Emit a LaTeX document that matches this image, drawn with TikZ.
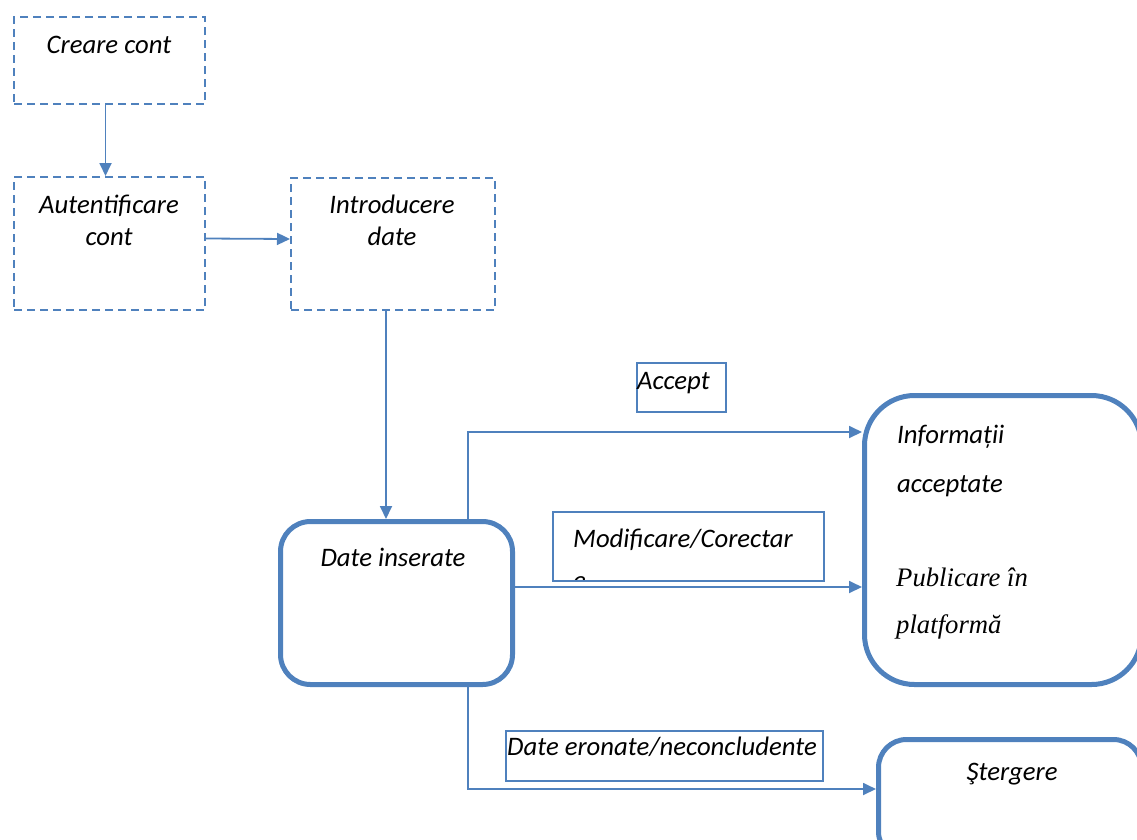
\documentclass[tikz,border=0pt]{standalone}
\usepackage{fontspec}
\setmainfont{Carlito}
\newfontfamily\tnr{Liberation Serif}
\usetikzlibrary{arrows.meta}
\definecolor{ob}{HTML}{4F81BD}
\begin{document}
\begin{tikzpicture}[x=1pt,y=-1pt,
 dbox/.style={draw=ob,line width=2pt,dash pattern=on 8pt off 5pt,inner sep=0pt,anchor=north west},
 rbox/.style={draw=ob,line width=5pt,inner sep=0pt,anchor=north west},
 lbox/.style={draw=ob,line width=1.5pt,inner sep=0pt,anchor=north west},
 conn/.style={draw=ob,line width=1.8pt,-{Triangle[length=13pt,width=12pt]}},
 txt/.style={font=\fontsize{26.7}{32}\selectfont\itshape,inner sep=0pt}]
\useasboundingbox (0,0) rectangle (1137,839);
% boxes
\node[dbox,minimum width=191pt,minimum height=87pt] (creare) at (13,16) {};
\node[dbox,minimum width=191pt,minimum height=133pt] (autent) at (13,176) {};
\node[dbox,minimum width=204pt,minimum height=132pt] (introd) at (290,177) {};
\node[rbox,rounded corners=30pt,minimum width=232pt,minimum height=163pt] (datein) at (278,519) {};
\node[rbox,rounded corners=50pt,minimum width=277pt,minimum height=289pt] (info) at (862,393) {};
\node[rbox,rounded corners=28pt,minimum width=263pt,minimum height=120pt] (sterg) at (876,737) {};
% label boxes
\node[lbox,minimum width=89pt,minimum height=49pt] (accbox) at (636,362) {};
\node[lbox,minimum width=271pt,minimum height=69pt] (modbox) at (552,511) {};
\node[lbox,minimum width=317pt,minimum height=50pt] (errbox) at (505,730) {};
% texts
\node[txt,anchor=base] (tcreare) at (109,53) {Creare cont};
\node[txt,anchor=base] (tautent1) at (109,213) {Autentificare};
\node[txt,anchor=base] (tautent2) at (109,245) {cont};
\node[txt,anchor=base] (tintrod1) at (392,213) {Introducere};
\node[txt,anchor=base] (tintrod2) at (392,245) {date};
\node[txt,anchor=base] (tdatein) at (393,566) {Date inserate};
\node[txt,anchor=base west] (tinfo1) at (897,443) {Informații};
\node[txt,anchor=base west] (tinfo2) at (897,492) {acceptate};
\node[txt,anchor=base west,font=\fontsize{26.7}{32}\selectfont\tnr\itshape] (tpub1) at (896,586) {Publicare în};
\node[txt,anchor=base west,font=\fontsize{26.7}{32}\selectfont\tnr\itshape] (tpub2) at (896,633) {platformă};
\node[txt,anchor=base] (tsterg) at (1012,780) {Ştergere};
\node[txt,anchor=base west] (tacc) at (637,389) {Accept};
\begin{scope}
\clip (553,512) rectangle (822,579);
\node[txt,anchor=base west] (tmod1) at (573,547) {Modificare/Corectar};
\node[txt,anchor=base west] (tmod2) at (573,589) {e};
\end{scope}
\node[txt,anchor=base west] (terr) at (507,755) {Date eronate/neconcludente};
% connectors
\draw[conn] ([xshift=-4pt]creare.south) -- ([xshift=-4pt]autent.north);
\draw[conn] ([yshift=5pt]autent.east) -- ([yshift=5pt]introd.west);
\draw[conn] ([xshift=-7pt]introd.south) -- ([xshift=-7pt]introd.south |- datein.north);
\draw[conn] ([xshift=190pt]datein.north west) |- ([yshift=-39pt]info.north west);
\draw[conn] (datein.east |- 0,587) -- (info.west |- 0,587);
\draw[conn] ([xshift=190pt]datein.south west) |- (sterg.west |- 0,789);
\end{tikzpicture}
\end{document}
